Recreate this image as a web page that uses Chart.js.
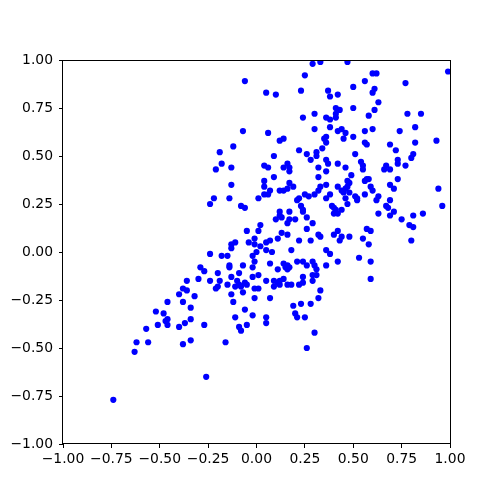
<!DOCTYPE html>
<html>
<head>
<meta charset="utf-8">
<script src="https://cdn.jsdelivr.net/npm/chart.js@4/dist/chart.umd.min.js"></script>
<style>
  html, body { margin: 0; padding: 0; background: #fff; }
  #wrap { width: 500px; height: 500px; }
</style>
</head>
<body>
<div id="wrap"><canvas id="scatter" width="500" height="500"></canvas></div>
<script>
// values, grouped by region of the plot
const topX = [0.29,0.33,-0.06,0.25,0.05,0.10,0.23,0.30,0.24,0.30,-0.07,0.06,0.12,0.14,-0.12,-0.19,0.22,0.26,0.31,0.31,0.09,0.28,-0.18,-0.21,-0.13,0.04,0.06,0.16,0.14,0.17,0.17,0.32,-0.13,0.04,0.04,0.09,0.17,0.19,0.16,0.32]
const topY = [0.98,0.99,0.89,0.92,0.83,0.82,0.84,0.72,0.70,0.64,0.63,0.62,0.58,0.59,0.55,0.52,0.53,0.51,0.52,0.50,0.50,0.48,0.46,0.43,0.44,0.45,0.44,0.46,0.44,0.44,0.42,0.44,0.35,0.37,0.34,0.39,0.36,0.34,0.33,0.39]

const topRightX = [0.47,0.99,0.60,0.62,0.56,0.77,0.50,0.61,0.37,0.60,0.42,0.38,0.63,0.50,0.41,0.43,0.41,0.61,0.58,0.78,0.85,0.36,0.38,0.41,0.38,0.82,0.60,0.56,0.74,0.42,0.44,0.46,0.50,0.45,0.35,0.36,0.36,0.56,0.57,0.82,0.93,0.69,0.72,0.34,0.51,0.81,0.80,0.36,0.37,0.42,0.54,0.73,0.73,0.77,0.67,0.66,0.69,0.46,0.55,0.55,0.36,0.49,0.73,0.58,0.57,0.56,0.69]
const topRightY = [0.99,0.94,0.93,0.93,0.89,0.88,0.86,0.85,0.84,0.83,0.82,0.81,0.78,0.75,0.75,0.74,0.72,0.74,0.71,0.72,0.72,0.70,0.69,0.70,0.65,0.65,0.64,0.63,0.63,0.63,0.64,0.62,0.60,0.59,0.59,0.57,0.60,0.57,0.56,0.57,0.58,0.56,0.53,0.54,0.51,0.51,0.49,0.48,0.46,0.46,0.47,0.48,0.46,0.45,0.45,0.43,0.43,0.44,0.45,0.43,0.42,0.40,0.38,0.38,0.38,0.37,0.35]

const midRightX = [0.36,0.33,0.32,0.30,0.36,0.38,0.47,0.48,0.42,0.44,0.45,0.46,0.47,0.46,0.47,0.48,0.51,0.52,0.52,0.56,0.59,0.60,0.63,0.62,0.69,0.71,0.67,0.68,0.39,0.40,0.41,0.42,0.40,0.44,0.63,0.69,0.71,0.75,0.81,0.86,0.94,0.96,0.79,0.81,0.80,0.32,0.33,0.40,0.42,0.44,0.43,0.48,0.57,0.59,0.55,0.58,0.36,0.38,0.53,0.42,0.59,0.36,0.31,0.31,0.59,0.33,0.32]
const midRightY = [0.35,0.34,0.32,0.30,0.28,0.30,0.37,0.36,0.34,0.32,0.31,0.33,0.34,0.28,0.25,0.31,0.29,0.28,0.27,0.30,0.34,0.32,0.29,0.27,0.27,0.33,0.24,0.23,0.24,0.23,0.22,0.20,0.20,0.22,0.20,0.19,0.21,0.17,0.19,0.20,0.33,0.24,0.14,0.13,0.06,0.09,0.08,0.09,0.11,0.08,0.06,0.08,0.12,0.11,0.07,0.04,0.01,-0.01,-0.03,-0.05,-0.05,-0.07,-0.09,-0.12,-0.14,-0.20,-0.24]

const lowLeftX = [-0.36,-0.38,-0.36,-0.40,-0.46,-0.38,-0.34,-0.52,-0.48,-0.46,-0.47,-0.46,-0.51,-0.34,-0.37,-0.40,-0.57,-0.62,-0.56,-0.63,-0.38,-0.34,-0.74]
const lowLeftY = [-0.15,-0.19,-0.20,-0.22,-0.26,-0.26,-0.29,-0.31,-0.32,-0.35,-0.36,-0.38,-0.38,-0.35,-0.37,-0.39,-0.40,-0.47,-0.47,-0.52,-0.48,-0.46,-0.77]

const lowMidX = [-0.27,-0.06,-0.11,-0.02,-0.09,-0.08,-0.05,0.05,0.05,-0.16,-0.26,0.19,0.20,0.21,0.25,0.28,0.30,0.26]
const lowMidY = [-0.38,-0.30,-0.34,-0.33,-0.39,-0.41,-0.38,-0.34,-0.37,-0.47,-0.65,-0.28,-0.32,-0.34,-0.34,-0.27,-0.42,-0.50]

const centreX = [-0.22,-0.24,-0.14,-0.08,-0.06,0.01,0.04,0.07,0.06,0.12,0.14,0.25,0.27,0.21,0.22,0.23,0.12,0.12,0.13,0.17,0.10,0.20,0.17,0.16,0.26,0.24,0.24,0.29,0.02,0.01,0.26,-0.05,0.13,0.16,0.11,-0.01,-0.04,-0.01,0.07,0.05,0.02,-0.11,-0.13,-0.13,0.22,0.28,0.05,0.08,0.00,0.18]
const centreY = [0.28,0.25,0.28,0.24,0.23,0.28,0.30,0.32,0.30,0.32,0.32,0.30,0.29,0.27,0.28,0.24,0.21,0.19,0.18,0.21,0.17,0.17,0.17,0.15,0.18,0.21,0.22,0.15,0.14,0.11,0.12,0.11,0.10,0.09,0.07,0.07,0.05,0.04,0.06,0.05,0.03,0.05,0.04,0.02,0.06,0.06,0.01,0.00,0.00,0.01]

const belowX = [-0.24,-0.18,-0.15,-0.02,-0.01,-0.07,-0.14,-0.14,0.07,0.21,0.24,0.29,0.30,0.14,0.16,0.15,0.17,0.16,0.11,0.26,-0.29,-0.27,-0.20,-0.09,-0.02,-0.30,-0.24,-0.19,-0.13,-0.02,0.01,0.05,0.09,0.11,0.12,0.14,0.16,0.18,0.24,0.24,0.29,0.29,-0.10,-0.09,-0.11,-0.08,-0.06,-0.05,-0.20,-0.21,-0.15,-0.01,0.01,-0.07,-0.13,0.09,0.12,0.22,-0.32,-0.01,0.07,-0.12,0.23]
const belowY = [-0.01,-0.02,-0.02,-0.02,-0.05,-0.07,-0.07,-0.08,-0.06,-0.05,-0.05,-0.05,-0.07,-0.06,-0.07,-0.08,-0.08,-0.09,-0.09,-0.07,-0.08,-0.10,-0.11,-0.11,-0.08,-0.14,-0.15,-0.15,-0.13,-0.13,-0.12,-0.15,-0.15,-0.16,-0.15,-0.14,-0.17,-0.17,-0.13,-0.16,-0.12,-0.15,-0.15,-0.17,-0.18,-0.18,-0.16,-0.17,-0.18,-0.19,-0.17,-0.19,-0.19,-0.21,-0.22,-0.18,-0.17,-0.17,-0.23,-0.24,-0.24,-0.26,-0.27]

const tickValues = [-1, -0.75, -0.5, -0.25, 0, 0.25, 0.5, 0.75, 1]

const groupsX = [topX, topRightX, midRightX, lowLeftX, lowMidX, centreX, belowX]
const groupsY = [topY, topRightY, midRightY, lowLeftY, lowMidY, centreY, belowY]

function makePoints(){
  const pts = []
  for (let g = 0; g < groupsX.length; g++){
    const n = Math.min(groupsX[g].length, groupsY[g].length)
    for (let i = 0; i < n; i++){ pts.push({ x: groupsX[g][i], y: groupsY[g][i] }) }
  }
  return pts
}

function fmtTick(v){ return v.toFixed(2).replace('-', '\u2212') }

// box round the plot area, like the matplotlib spines
const frame = {
  id: 'frame',
  afterDraw(chart){
    const a = chart.chartArea, ctx = chart.ctx
    ctx.save()
    ctx.strokeStyle = '#000'
    ctx.lineWidth = 1
    ctx.strokeRect(Math.round(a.left) - 0.5, Math.round(a.top) + 0.5, Math.round(a.right - a.left) + 1, Math.round(a.bottom - a.top) - 1)
    ctx.restore()
  }
}

const tickFont = { family: 'DejaVu Sans', size: 13.9 }

function axis(fixedSize, isY){
  return {
    type: 'linear',
    min: -1,
    max: 1,
    afterBuildTicks: (s) => { s.ticks = tickValues.map(v => ({ value: v })) },
    afterFit: (s) => { if (isY) { s.width = fixedSize } else { s.height = fixedSize } },
    border: { display: false },
    grid: { display: true, drawOnChartArea: false, drawTicks: true, tickLength: 4, color: '#000', lineWidth: 1 },
    ticks: { color: '#000', font: tickFont, padding: isY ? 6 : 3, maxRotation: 0, autoSkip: false, callback: (v) => fmtTick(v) }
  }
}

const cfg = {
  type: 'scatter',
  data: {
    datasets: [{
      data: makePoints(),
      backgroundColor: '#0000ff',
      borderWidth: 0,
      pointRadius: 3.1,
      pointHoverRadius: 3.1,
      clip: 0
    }]
  },
  options: {
    responsive: false,
    animation: false,
    devicePixelRatio: 1,
    layout: { padding: { left: 0, top: 60, right: 50, bottom: 0 } },
    plugins: { legend: { display: false }, tooltip: { enabled: false } },
    scales: {
      x: axis(56, false),
      y: axis(63, true)
    }
  },
  plugins: [frame]
}

new Chart(document.getElementById('scatter'), cfg)
</script>
</body>
</html>
